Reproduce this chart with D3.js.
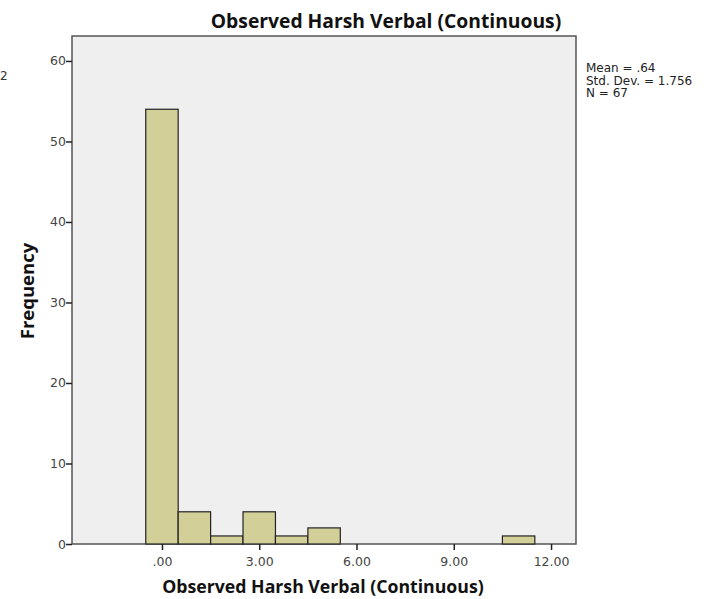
<!DOCTYPE html>
<html>
<head>
<meta charset="utf-8">
<script src="https://cdn.jsdelivr.net/npm/d3@7"></script>
<style>
  body { margin: 0; background: #fff; }
  text { font-family: "Open Sans", "DejaVu Sans", sans-serif; }
</style>
</head>
<body>
<div id="chart"></div>
<script>
// bin centres and counts
var binCentres = [0, 1, 2, 3, 4, 5, 11];
var binCounts = [54, 4, 1, 4, 1, 2, 1];
var binWidth = 1;
var xTicks = [0, 3, 6, 9, 12];
var yTicks = [0, 10, 20, 30, 40, 50, 60];
var statsLines = ["Mean = .64", "Std. Dev. = 1.756", "N = 67"];

var width = 710, height = 599;
var plot = { left: 72, top: 36, right: 576, bottom: 544 };

var svg = d3.select("#chart").append("svg")
  .attr("width", width)
  .attr("height", height);

var x = d3.scaleLinear().domain([-2.775, 12.77]).range([plot.left, plot.right]);
var y = d3.scaleLinear().domain([0, 63.1]).range([plot.bottom, plot.top]);

// plot background
svg.append("rect")
  .attr("x", plot.left).attr("y", plot.top)
  .attr("width", plot.right - plot.left)
  .attr("height", plot.bottom - plot.top)
  .attr("fill", "#efefef")
  .attr("stroke", "#555").attr("stroke-width", 1.5);

// bars
var bins = binCentres.map(function (c, i) { return { c: c, n: binCounts[i] }; });
svg.selectAll("rect.bar").data(bins).enter().append("rect")
  .attr("class", "bar")
  .attr("x", function (d) { return x(d.c - binWidth / 2); })
  .attr("y", function (d) { return y(d.n); })
  .attr("width", function (d) { return x(d.c + binWidth / 2) - x(d.c - binWidth / 2); })
  .attr("height", function (d) { return y(0) - y(d.n); })
  .attr("fill", "#d3cf98")
  .attr("stroke", "#222").attr("stroke-width", 1.2);

// axes
var xAxis = svg.append("g")
  .attr("transform", "translate(0," + plot.bottom + ")")
  .call(d3.axisBottom(x).tickValues(xTicks).tickSize(6).tickSizeOuter(0)
    .tickFormat(function (d) { return d === 0 ? ".00" : d3.format(".2f")(d); }));
var yAxis = svg.append("g")
  .attr("transform", "translate(" + plot.left + ",0)")
  .call(d3.axisLeft(y).tickValues(yTicks).tickSize(6).tickSizeOuter(0)
    .tickFormat(d3.format("d")));

[xAxis, yAxis].forEach(function (g) {
  g.select(".domain").remove();
  g.selectAll(".tick line").attr("stroke", "#222").attr("stroke-width", 1.5);
  g.selectAll(".tick text")
    .attr("fill", "#444")
    .style("font-family", "'DejaVu Sans', sans-serif")
    .style("font-size", "12.5px");
});
xAxis.selectAll(".tick text").attr("dy", "1.05em");
yAxis.selectAll(".tick text").attr("x", -6);

// title and axis labels
svg.append("text")
  .attr("x", 386).attr("y", 28)
  .attr("text-anchor", "middle")
  .style("font-size", "19.3px").style("font-weight", "bold")
  .attr("fill", "#111")
  .text("Observed Harsh Verbal (Continuous)");

svg.append("text")
  .attr("x", 323).attr("y", 593)
  .attr("text-anchor", "middle")
  .style("font-size", "17.7px").style("font-weight", "bold")
  .attr("fill", "#111")
  .text("Observed Harsh Verbal (Continuous)");

svg.append("text")
  .attr("transform", "translate(34,291) rotate(-90)")
  .attr("text-anchor", "middle")
  .style("font-size", "18.5px").style("font-weight", "bold")
  .attr("fill", "#111")
  .text("Frequency");

// stray label at the left edge
svg.append("text")
  .attr("x", 0).attr("y", 80)
  .style("font-family", "'DejaVu Sans', sans-serif")
  .style("font-size", "12px").attr("fill", "#333")
  .text("2");

// statistics box
svg.selectAll("text.stat").data(statsLines).enter().append("text")
  .attr("class", "stat")
  .attr("x", 586)
  .attr("y", function (d, i) { return 72 + i * 12.5; })
  .style("font-family", "'DejaVu Sans', sans-serif")
  .style("font-size", "12px").attr("fill", "#222")
  .text(function (d) { return d; });
</script>
</body>
</html>
